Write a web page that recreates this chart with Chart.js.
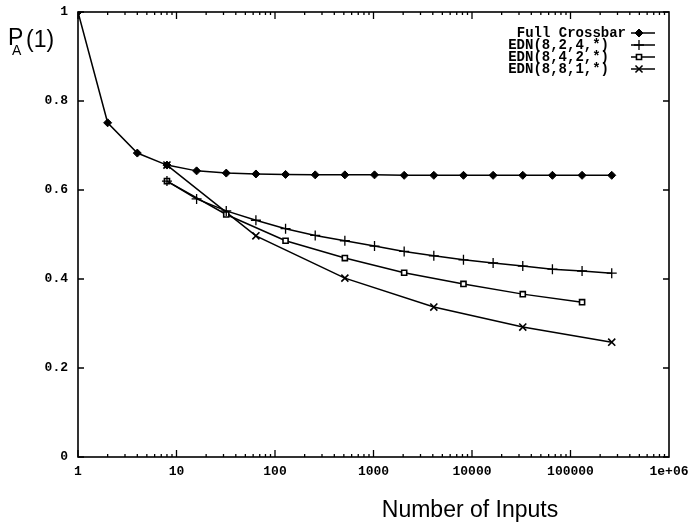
<!DOCTYPE html>
<html>
<head>
<meta charset="utf-8">
<script src="https://cdn.jsdelivr.net/npm/chart.js@4.4.1/dist/chart.umd.min.js"></script>
<style>
  html, body { margin: 0; padding: 0; background: #fff; }
  #wrap { width: 691px; height: 525px; }
</style>
</head>
<body>
<div id="wrap"><canvas id="chart" width="691" height="525"></canvas></div>
<script>
// values
const crossbarX = [1, 2, 4, 8, 16, 32, 64, 128, 256, 512, 1024, 2048, 4096, 8192, 16384, 32768, 65536, 131072, 262144];
const crossbarY = [1.0, 0.751, 0.683, 0.656, 0.643, 0.638, 0.636, 0.635, 0.634, 0.634, 0.634, 0.633, 0.633, 0.633, 0.633, 0.633, 0.633, 0.633, 0.633];

const edn824X = [8, 16, 32, 64, 128, 256, 512, 1024, 2048, 4096, 8192, 16384, 32768, 65536, 131072, 262144];
const edn824Y = [0.620, 0.580, 0.553, 0.532, 0.513, 0.498, 0.486, 0.474, 0.462, 0.452, 0.443, 0.436, 0.429, 0.422, 0.418, 0.413];

const edn842X = [8, 32, 128, 512, 2048, 8192, 32768, 131072];
const edn842Y = [0.620, 0.545, 0.486, 0.447, 0.414, 0.389, 0.366, 0.348];

const edn881X = [8, 64, 512, 4096, 32768, 262144];
const edn881Y = [0.656, 0.497, 0.402, 0.337, 0.292, 0.258];

const seriesNames = ['Full Crossbar', 'EDN(8,2,4,*)', 'EDN(8,4,2,*)', 'EDN(8,8,1,*)'];
const xTickValues = [1, 10, 100, 1000, 10000, 100000, 1000000];
const xTickLabels = ['1', '10', '100', '1000', '10000', '100000', '1e+06'];
const yTickValues = [0, 0.2, 0.4, 0.6, 0.8, 1];
const yTickLabels = ['0', '0.2', '0.4', '0.6', '0.8', '1'];

const monoFont = '"Liberation Mono", "Courier New", monospace';
const sansFont = '"Liberation Sans", Arial, sans-serif';

const toPoints = (xs, ys) => xs.map((x, i) => ({ x: x, y: ys[i] }));

const marks = [
  { pointStyle: 'rectRot', radius: 4, fill: '#000', borderWidth: 1 },
  { pointStyle: 'cross', radius: 5, fill: '#000', borderWidth: 1.3 },
  { pointStyle: 'rect', radius: 3.6, fill: '#fff', borderWidth: 1.6 },
  { pointStyle: 'crossRot', radius: 5, fill: '#000', borderWidth: 1.6 }
];

const makeSet = (i, xs, ys) => ({
  label: seriesNames[i],
  data: toPoints(xs, ys),
  showLine: true,
  borderColor: '#000',
  borderWidth: 1.5,
  pointStyle: marks[i].pointStyle,
  pointRadius: marks[i].radius,
  pointBackgroundColor: marks[i].fill,
  pointBorderColor: '#000',
  pointBorderWidth: marks[i].borderWidth,
  tension: 0
});

// frame, inward ticks, titles and key, drawn like the original plot
const plotDecor = {
  id: 'plotDecor',
  afterDraw(chart) {
    const ctx = chart.ctx;
    const a = chart.chartArea;
    const xs = chart.scales.x;
    const ys = chart.scales.y;
    ctx.save();
    ctx.strokeStyle = '#000';
    ctx.lineWidth = 1.6;
    ctx.strokeRect(a.left, a.top, a.right - a.left, a.bottom - a.top);

    ctx.lineWidth = 1.3;
    ctx.beginPath();
    yTickValues.forEach(v => {
      const py = ys.getPixelForValue(v);
      ctx.moveTo(a.left, py); ctx.lineTo(a.left + 6, py);
      ctx.moveTo(a.right, py); ctx.lineTo(a.right - 6, py);
    });
    for (let d = 1; d < 1000000; d *= 10) {
      for (let m = 1; m <= 9; m++) {
        const v = d * m;
        const px = xs.getPixelForValue(v);
        const len = m === 1 ? 7 : 3;
        ctx.moveTo(px, a.bottom); ctx.lineTo(px, a.bottom - len);
        ctx.moveTo(px, a.top); ctx.lineTo(px, a.top + len);
      }
    }
    ctx.stroke();

    // axis titles
    ctx.fillStyle = '#000';
    ctx.textBaseline = 'alphabetic';
    ctx.textAlign = 'left';
    ctx.font = '23px ' + sansFont;
    ctx.fillText('P', 8, 45);
    ctx.fillText('(1)', 26, 47);
    ctx.font = '14px ' + sansFont;
    ctx.fillText('A', 12, 55);
    ctx.font = '23px ' + sansFont;
    ctx.textAlign = 'center';
    ctx.fillText('Number of Inputs', 470, 517);

    // key
    ctx.font = 'bold 14px ' + monoFont;
    ctx.textAlign = 'right';
    ctx.textBaseline = 'middle';
    const rowY = [33, 45, 57, 69];
    chart.data.datasets.forEach((ds, i) => {
      const y = rowY[i];
      ctx.fillStyle = '#000';
      ctx.fillText(ds.label, i === 0 ? 626 : 609, y);
      ctx.lineWidth = 1.5;
      ctx.beginPath();
      ctx.moveTo(631, y); ctx.lineTo(655, y);
      ctx.stroke();
      ctx.fillStyle = marks[i].fill;
      ctx.lineWidth = marks[i].borderWidth;
      Chart.helpers.drawPoint(ctx, {
        pointStyle: marks[i].pointStyle,
        radius: marks[i].radius,
        rotation: 0,
        borderWidth: marks[i].borderWidth
      }, 639, y);
    });
    ctx.restore();
  }
};

const ctx = document.getElementById('chart').getContext('2d');
new Chart(ctx, {
  type: 'scatter',
  data: {
    datasets: [
      makeSet(0, crossbarX, crossbarY),
      makeSet(1, edn824X, edn824Y),
      makeSet(2, edn842X, edn842Y),
      makeSet(3, edn881X, edn881Y)
    ]
  },
  options: {
    responsive: false,
    animation: false,
    layout: { padding: { top: 12, right: 22, left: 0, bottom: 0 } },
    plugins: {
      legend: { display: false },
      tooltip: { enabled: false }
    },
    scales: {
      x: {
        type: 'logarithmic',
        min: 1,
        max: 1000000,
        grid: { display: false, drawTicks: false },
        border: { display: false },
        afterBuildTicks: s => { s.ticks = xTickValues.map(v => ({ value: v })); },
        afterFit: s => { s.height = 68; s.paddingLeft = 0; s.paddingRight = 0; },
        ticks: {
          autoSkip: false,
          maxRotation: 0,
          padding: 7,
          color: '#000',
          font: { family: monoFont, size: 13, weight: 'bold' },
          callback: (v) => xTickLabels[xTickValues.indexOf(v)]
        }
      },
      y: {
        min: 0,
        max: 1,
        grid: { display: false, drawTicks: false },
        border: { display: false },
        afterBuildTicks: s => { s.ticks = yTickValues.map(v => ({ value: v })); },
        afterFit: s => { s.width = 78; s.paddingTop = 0; s.paddingBottom = 0; },
        ticks: {
          padding: 10,
          color: '#000',
          font: { family: monoFont, size: 13, weight: 'bold' },
          callback: (v) => yTickLabels[yTickValues.indexOf(v)]
        }
      }
    }
  },
  plugins: [plotDecor]
});
</script>
</body>
</html>
